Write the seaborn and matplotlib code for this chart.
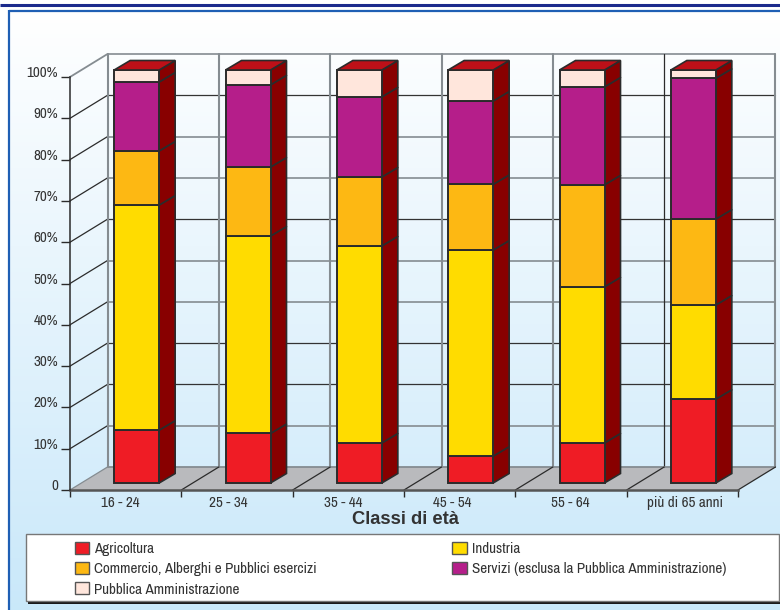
import numpy as np
import matplotlib
matplotlib.use("Agg")
import matplotlib.pyplot as plt
from matplotlib.patches import Patch, Polygon, Rectangle
from matplotlib.transforms import Affine2D, ScaledTranslation
import seaborn as sns

age_labels = ["16 - 24", "25 - 34", "35 - 44", "45 - 54", "55 - 64", "più di 65 anni"]
agricoltura = [12.8, 12.0, 9.7, 6.5, 9.7, 20.3]
industria = [54.5, 47.8, 47.7, 49.9, 37.8, 22.8]
commercio = [13.1, 16.7, 16.7, 15.9, 24.7, 20.8]
servizi = [16.7, 19.9, 19.4, 20.2, 23.7, 34.1]
pubblica = [2.9, 3.6, 6.5, 7.5, 4.1, 2.0]

series_names = [
    "Agricoltura",
    "Industria",
    "Commercio, Alberghi e Pubblici esercizi",
    "Servizi (esclusa la Pubblica Amministrazione)",
    "Pubblica Amministrazione",
]
series_values = [agricoltura, industria, commercio, servizi, pubblica]
series_colors = ["#ef1c25", "#ffdc00", "#fdb813", "#b51e8a", "#ffe6dc"]
legend_order = [0, 2, 4, 1, 3]
y_ticks = list(range(0, 101, 10))
dark_rules = [20, 30, 60, 90]
label_nudges = [-5.5, -8.5, -5, -7, -1, 3]

W, H = 780, 610
AX_L, AX_R, AX_T, AX_B = 70, 738, 77, 490
NARROW = ["Archivo Narrow", "PT Sans Narrow", "Liberation Sans", "DejaVu Sans"]
BOLD = ["Liberation Sans", "DejaVu Sans"]
INK = "#2b2b2b"
TEXT = "#333333"
WALL = "#858c91"
FS = 10.9

sns.set_theme(style="white")
plt.rcParams["font.family"] = NARROW

fig = plt.figure(figsize=(W / 100, H / 100), dpi=100, facecolor="white")

# Page furniture: rule at the top, gradient panel, legend box with its shadow
bg = fig.add_axes([0, 0, 1, 1], zorder=0)
bg.axis("off")
gradient = np.linspace(0, 1, 256).reshape(-1, 1, 1)
top_rgb = np.array([1.0, 1.0, 1.0]).reshape(1, 1, 3)
bot_rgb = np.array([0.79, 0.91, 0.98]).reshape(1, 1, 3)
bg.imshow(top_rgb + gradient * (bot_rgb - top_rgb), extent=(9, W, H, 11), aspect="auto", zorder=0)
bg.set_xlim(0, W)
bg.set_ylim(H, 0)
bg.plot([0, W], [5, 5], color="#1b2a8c", lw=2.2, solid_capstyle="butt", zorder=2)
bg.plot([9, W], [10.5, 10.5], color="#1f5fb4", lw=1.6, solid_capstyle="butt", zorder=2)
bg.plot([8.8, 8.8], [10, H], color="#1f5fb4", lw=1.6, solid_capstyle="butt", zorder=2)
bg.add_patch(Rectangle((28, 536), W, 68, facecolor="#1a1a1a", edgecolor="none", zorder=2))
bg.add_patch(Rectangle((26, 533.5), W - 27, 67, facecolor="white", edgecolor="#777777", lw=1.0, zorder=3))

ax = fig.add_axes(
    [AX_L / W, (H - AX_B) / H, (AX_R - AX_L) / W, (AX_B - AX_T) / H],
    zorder=1,
)
ax.patch.set_visible(False)

px_x = (AX_R - AX_L) / 6
px_y = (AX_B - AX_T) / 100

# Depth offsets of the pseudo-3D box, expressed in data units
wall_dx, wall_dy = 37.5 / px_x, 23 / px_y
bar_dx, bar_dy = 11 / px_x, 7 / px_y
side_dx, side_dy = 16 / px_x, 9.5 / px_y
bar_width = 45 / px_x

x0, x1 = -0.5, 5.5
ax.set_xlim(x0, x1)
ax.set_ylim(0, 100)

# Floor
ax.add_patch(Polygon(
    [(x0, 0), (x1, 0), (x1 + wall_dx, wall_dy), (x0 + wall_dx, wall_dy)],
    closed=True, facecolor="#b9babd", edgecolor="none", zorder=1, clip_on=False,
))

# Back wall and left wall grid
for v in y_ticks[1:]:
    is_dark = v in dark_rules
    ax.plot([x0 + wall_dx, x1 + wall_dx], [v + wall_dy] * 2, color="#333333" if is_dark else WALL,
            lw=0.9 if is_dark else 1.2, zorder=1, clip_on=False)
    ax.plot([x0, x0 + wall_dx], [v, v + wall_dy], color=WALL if v == 100 else INK,
            lw=1.3 if v == 100 else 0.9, zorder=1, clip_on=False)
ax.plot([x0 + wall_dx, x1 + wall_dx], [wall_dy] * 2, color=WALL, lw=1.3, zorder=1.1, clip_on=False)
for i in range(7):
    xb = x0 + i + wall_dx
    is_dark = i == 5
    ax.plot([xb, xb], [wall_dy, 100 + wall_dy], color=INK if is_dark else WALL,
            lw=0.9 if is_dark else 1.5, zorder=1, clip_on=False)
    ax.plot([x0 + i, xb], [0, wall_dy], color=INK if i else WALL, lw=0.9, zorder=1.2, clip_on=False)

# Stacked front faces
bar_shift = Affine2D().translate(bar_dx, bar_dy) + ax.transData
cumulative = np.zeros(len(age_labels))
for name, values, color in zip(series_names, series_values, series_colors):
    sns.barplot(
        x=age_labels, y=values, bottom=cumulative, color=color, saturation=1,
        width=bar_width, edgecolor=INK, linewidth=1.4, ax=ax, zorder=3,
    )
    for patch in ax.containers[-1]:
        patch.set_transform(bar_shift)
        patch.set_clip_on(False)
    # Right-hand side faces follow the same segment boundaries
    for pos, (base, value) in enumerate(zip(cumulative, values)):
        xr = pos + bar_width / 2 + bar_dx
        yb = base + bar_dy
        yt = base + value + bar_dy
        ax.add_patch(Polygon(
            [(xr, yb), (xr + side_dx, yb + side_dy), (xr + side_dx, yt + side_dy), (xr, yt)],
            closed=True, facecolor="#880000", edgecolor=INK, lw=1.2, zorder=2.5, clip_on=False,
        ))
    cumulative = cumulative + np.array(values)

# Bar lids
for pos, total in enumerate(cumulative):
    xl = pos - bar_width / 2 + bar_dx
    xr = pos + bar_width / 2 + bar_dx
    yt = total + bar_dy
    ax.add_patch(Polygon(
        [(xl, yt), (xr, yt), (xr + side_dx, yt + side_dy), (xl + side_dx, yt + side_dy)],
        closed=True, facecolor="#bd1018", edgecolor=INK, lw=1.2, zorder=3.2, clip_on=False,
    ))

# Axes, ticks and labels
ax.set_xlim(x0, x1)
ax.set_ylim(0, 100)
sns.despine(ax=ax, top=True, right=True)
ax.spines["left"].set(color=INK, linewidth=1.1)
ax.spines["bottom"].set(color="#555555", linewidth=1.8, zorder=2)
ax.grid(False)

ax.set_yticks(y_ticks)
ax.set_yticklabels(["0"] + [f"{v}%" for v in y_ticks[1:]], fontsize=FS, color=TEXT)
ax.tick_params(axis="y", length=6.5, width=1.0, color=INK, pad=2.0, left=True)
raise_labels = ScaledTranslation(0, 5.5 / 100, fig.dpi_scale_trans)
for label in ax.get_yticklabels():
    label.set_transform(label.get_transform() + raise_labels)

ax.set_xticks([x0 + i for i in range(7)])
ax.set_xticklabels([])
ax.tick_params(axis="x", which="major", length=5, width=1.0, color=INK, bottom=True)
ax.set_xticks([i + n / px_x for i, n in enumerate(label_nudges)], minor=True)
ax.set_xticklabels(age_labels, minor=True, fontsize=FS, color=TEXT)
ax.tick_params(axis="x", which="minor", length=0, pad=4, bottom=True)

ax.set_xlabel("")
ax.set_ylabel("")
fig.text(405.5 / W, 1 - 519 / H, "Classi di età", fontsize=13.2, fontweight="bold",
         family=BOLD, color=TEXT, ha="center", va="center")

handles = [
    Patch(facecolor=series_colors[i], edgecolor="#555555", linewidth=1.0, label=series_names[i])
    for i in legend_order
]
legend = fig.legend(
    handles=handles, ncol=2, frameon=False, loc="upper left",
    bbox_to_anchor=(75 / W, 1 - 542 / H), borderaxespad=0, borderpad=0,
    fontsize=FS, labelcolor=TEXT, handlelength=0.95, handleheight=0.85,
    handletextpad=0.33, labelspacing=0.39, columnspacing=8.93,
)
legend.set_zorder(5)

fig.savefig("out.png", dpi=100, facecolor="white")
